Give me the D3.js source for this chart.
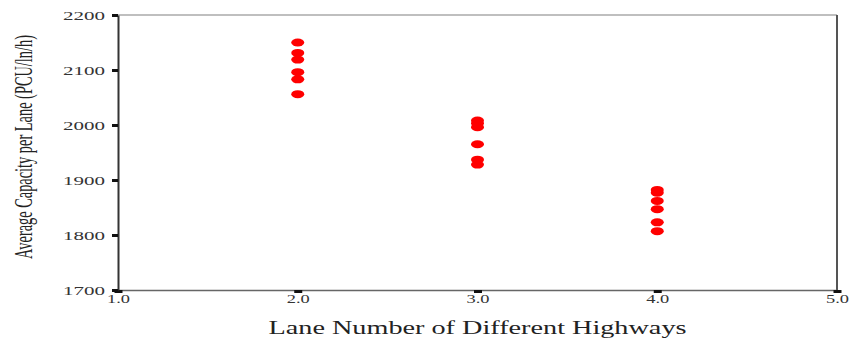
<!DOCTYPE html>
<html>
<head>
<meta charset="utf-8">
<script src="https://cdn.jsdelivr.net/npm/d3@7"></script>
<style>
html,body{margin:0;padding:0;background:#fff;}
svg{display:block;}
</style>
</head>
<body>
<svg id="chart" width="850" height="342"></svg>
<script>
const xTicks = [1, 2, 3, 4, 5];
const yTicks = [1700, 1800, 1900, 2000, 2100, 2200];
const lanes2 = [2150, 2131, 2119, 2096, 2083, 2056];
const lanes3 = [2008, 2003, 1996, 1965, 1937, 1928];
const lanes4 = [1882, 1877, 1862, 1847, 1823, 1807];
const laneNumbers = [2, 3, 4];
const xTitle = "Lane Number of Different Highways";
const yTitle = "Average Capacity per Lane (PCU/ln/h)";

const points = [];
[lanes2, lanes3, lanes4].forEach((vals, i) => vals.forEach(v => points.push({x: laneNumbers[i], y: v})));

const svg = d3.select("#chart");
const x = d3.scaleLinear().domain([1, 5]).range([118, 837]);
const y = d3.scaleLinear().domain([1700, 2200]).range([290, 15]);

// frame: top & right
svg.append("line").attr("x1", x(1)).attr("x2", x(5)).attr("y1", y(2200)).attr("y2", y(2200))
  .attr("stroke", "#aaa").attr("stroke-width", 1.5);
svg.append("line").attr("x1", x(5)).attr("x2", x(5)).attr("y1", y(2200)).attr("y2", y(1700))
  .attr("stroke", "#555").attr("stroke-width", 2);

// x axis
const xAxis = d3.axisBottom(x).tickValues(xTicks).tickFormat(d3.format(".1f")).tickSize(0).tickPadding(4);
const gx = svg.append("g").attr("transform", `translate(0,${y(1700)})`).call(xAxis);
gx.select(".domain").attr("stroke", "#666").attr("stroke-width", 1.5);
gx.selectAll(".tick text").attr("font-family", "Liberation Serif").attr("font-size", 13)
  .attr("fill", "#333").attr("textLength", 23).attr("lengthAdjust", "spacingAndGlyphs");
gx.selectAll(".tick").append("rect").attr("x", -4).attr("y", 0).attr("width", 8).attr("height", 3).attr("fill", "#111");

// y axis
const yAxis = d3.axisLeft(y).tickValues(yTicks).tickFormat(d3.format("d")).tickSize(0).tickPadding(13);
const gy = svg.append("g").attr("transform", `translate(${x(1)},0)`).call(yAxis);
gy.select(".domain").attr("stroke", "#333").attr("stroke-width", 2);
gy.selectAll(".tick text").attr("font-family", "Liberation Serif").attr("font-size", 13)
  .attr("fill", "#333").attr("textLength", 42).attr("lengthAdjust", "spacingAndGlyphs");
gy.selectAll(".tick").append("rect").attr("x", -6).attr("y", -1.5).attr("width", 6).attr("height", 3).attr("fill", "#111");

// titles
svg.append("text").attr("x", (x(1) + x(5)) / 2).attr("y", 334).attr("text-anchor", "middle")
  .attr("font-family", "Liberation Serif").attr("font-size", 18).attr("fill", "#222")
  .attr("textLength", 418).attr("lengthAdjust", "spacingAndGlyphs").text(xTitle);
const yt = svg.append("text")
  .attr("text-anchor", "middle")
  .attr("font-family", "Liberation Serif").attr("font-size", 26).attr("fill", "#222")
  .text(yTitle);
const natural = yt.node().getComputedTextLength();
const sx = 224 / natural;
yt.attr("transform", `translate(32,147) rotate(-90) scale(${sx},1)`);

// points
svg.append("g").selectAll("ellipse").data(points).join("ellipse")
  .attr("cx", d => x(d.x)).attr("cy", d => y(d.y))
  .attr("rx", 6.5).attr("ry", 4).attr("fill", "#ff0000");
</script>
</body>
</html>
